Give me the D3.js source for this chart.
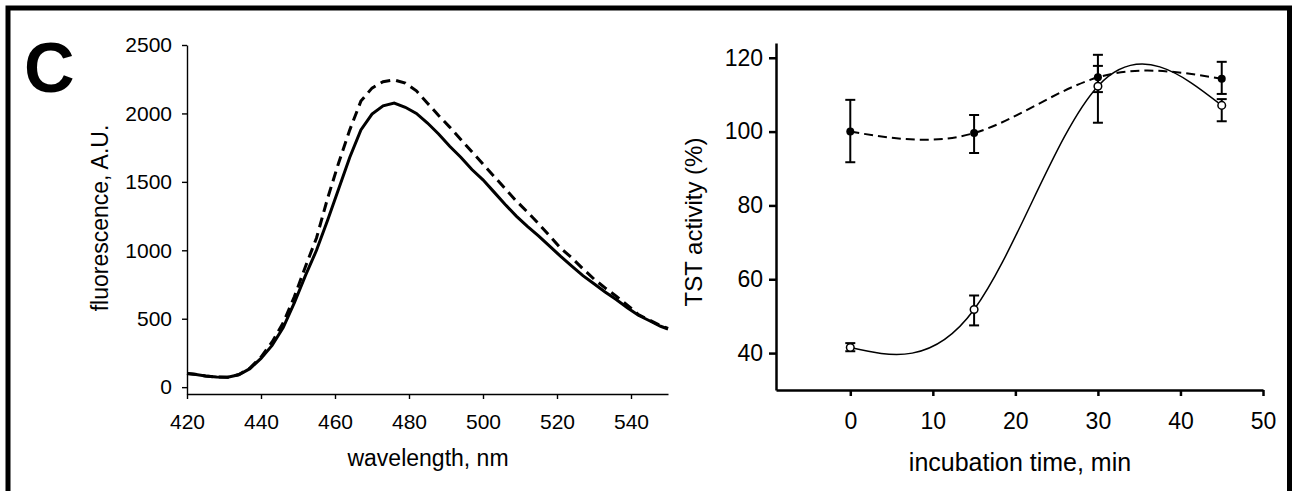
<!DOCTYPE html>
<html>
<head>
<meta charset="utf-8">
<script src="https://cdn.jsdelivr.net/npm/d3@7"></script>
<style>
  body { margin: 0; background: #fff; }
  text { font-family: "Liberation Sans", Arial, sans-serif; fill: #000; }
</style>
</head>
<body>
<svg width="1292" height="491"></svg>
<script>
// left panel: fluorescence spectra
const wavelength = [420,422,425,428,431,434,437,440,443,446,449,452,455,458,461,464,467,470,473,476,479,482,485,488,491,494,497,500,503,506,509,512,515,518,521,524,527,530,533,536,539,542,545,548,550];
const fluorSolid = [100,95,82,74,72,90,135,210,305,435,615,815,1000,1220,1450,1680,1880,1995,2055,2075,2045,2000,1930,1850,1760,1680,1590,1515,1425,1335,1250,1175,1105,1030,955,885,815,755,695,640,580,525,485,445,425];
const fluorDashed = [100,95,82,74,72,92,140,220,330,470,660,880,1090,1380,1640,1880,2090,2185,2232,2245,2222,2165,2075,1985,1900,1810,1720,1630,1540,1450,1360,1280,1195,1105,1015,945,865,790,725,665,600,530,490,450,430];
const wlTicks = [420,440,460,480,500,520,540];
const fluorTicks = [0,500,1000,1500,2000,2500];

// right panel: TST activity
const times = [0,15,30,45];
const ctrlMean = [100,99.6,114.7,114.3];
const ctrlHi = [108.6,104.5,120.8,118.9];
const ctrlLo = [91.7,94.2,110.7,110.2];
const treatMean = [41.5,51.8,112.3,107.1];
const treatHi = [42.7,55.6,117.8,108.8];
const treatLo = [40.5,47.5,102.4,102.8];
const timeTicks = [0,10,20,30,40,50];
const actTicks = [40,60,80,100,120];

const svg = d3.select("svg");

// frame
svg.append("rect")
  .attr("x", 8).attr("y", 8)
  .attr("width", 1281.5).attr("height", 600)
  .attr("fill", "none").attr("stroke", "#000").attr("stroke-width", 5);

svg.append("text")
  .attr("x", 24).attr("y", 92)
  .style("font-size", "70px").style("font-weight", "bold")
  .text("C");

// ---- left chart
const x1 = d3.scaleLinear().domain([420, 550]).range([187, 668]);
const y1 = d3.scaleLinear().domain([-50, 2500]).range([394, 45]);

const gx1 = svg.append("g")
  .attr("transform", "translate(0,394)")
  .call(d3.axisBottom(x1).tickValues(wlTicks).tickFormat(d3.format("d"))
    .tickSize(5).tickSizeOuter(0).tickPadding(15));
const gy1 = svg.append("g")
  .attr("transform", "translate(187,0)")
  .call(d3.axisLeft(y1).tickValues(fluorTicks).tickFormat(d3.format("d"))
    .tickSize(5).tickSizeOuter(0).tickPadding(10));
[gx1, gy1].forEach(g => {
  g.selectAll("path, line").attr("stroke", "#000").attr("stroke-width", 1.4);
  g.selectAll("text").style("font-size", "21px").attr("fill", "#000");
});

const line1 = d3.line()
  .x((d, i) => x1(wavelength[i]))
  .y(d => y1(d));

svg.append("path")
  .attr("d", line1(fluorSolid))
  .attr("fill", "none").attr("stroke", "#000").attr("stroke-width", 3);
svg.append("path")
  .attr("d", line1(fluorDashed))
  .attr("fill", "none").attr("stroke", "#000").attr("stroke-width", 3)
  .attr("stroke-dasharray", "10,6");

svg.append("text")
  .attr("x", 428).attr("y", 466)
  .attr("text-anchor", "middle")
  .style("font-size", "23px")
  .text("wavelength, nm");
svg.append("text")
  .attr("transform", "translate(108,218) rotate(-90)")
  .attr("text-anchor", "middle")
  .style("font-size", "23px")
  .text("fluorescence, A.U.");

// ---- right chart
const x2 = d3.scaleLinear().domain([-9, 50]).range([776, 1263]);
const y2 = d3.scaleLinear().domain([30, 124]).range([390, 43]);

const gx2 = svg.append("g")
  .attr("transform", "translate(0,390)")
  .call(d3.axisBottom(x2).tickValues(timeTicks).tickSize(6).tickSizeOuter(0).tickPadding(17));
const gy2 = svg.append("g")
  .attr("transform", "translate(776,0)")
  .call(d3.axisLeft(y2).tickValues(actTicks).tickSize(7).tickSizeOuter(0).tickPadding(6));
[gx2, gy2].forEach(g => {
  g.selectAll("path, line").attr("stroke", "#000").attr("stroke-width", 2.5);
  g.selectAll("text").style("font-size", "23px").attr("fill", "#000");
});

const line2 = d3.line()
  .x((d, i) => x2(times[i]))
  .y(d => y2(d))
  .curve(d3.curveNatural);

svg.append("path")
  .attr("d", line2(ctrlMean))
  .attr("fill", "none").attr("stroke", "#000").attr("stroke-width", 2)
  .attr("stroke-dasharray", "9,5");
svg.append("path")
  .attr("d", line2(treatMean))
  .attr("fill", "none").attr("stroke", "#000").attr("stroke-width", 1.5);

function errorBars(mean, lo, hi) {
  const g = svg.append("g").attr("stroke", "#000").attr("stroke-width", 2);
  times.forEach((t, i) => {
    const cx = x2(t);
    g.append("line").attr("x1", cx).attr("x2", cx).attr("y1", y2(lo[i])).attr("y2", y2(hi[i]));
    g.append("line").attr("x1", cx - 5).attr("x2", cx + 5).attr("y1", y2(lo[i])).attr("y2", y2(lo[i]));
    g.append("line").attr("x1", cx - 5).attr("x2", cx + 5).attr("y1", y2(hi[i])).attr("y2", y2(hi[i]));
  });
}
errorBars(ctrlMean, ctrlLo, ctrlHi);
errorBars(treatMean, treatLo, treatHi);

svg.append("g").selectAll("circle")
  .data(treatMean)
  .join("circle")
  .attr("cx", (d, i) => x2(times[i]))
  .attr("cy", d => y2(d))
  .attr("r", 3.8)
  .attr("fill", "#fff").attr("stroke", "#000").attr("stroke-width", 1.5);
svg.append("g").selectAll("circle")
  .data(ctrlMean)
  .join("circle")
  .attr("cx", (d, i) => x2(times[i]))
  .attr("cy", d => y2(d))
  .attr("r", 4)
  .attr("fill", "#000");

svg.append("text")
  .attr("x", 1020).attr("y", 471)
  .attr("text-anchor", "middle")
  .style("font-size", "25px")
  .text("incubation time, min");
svg.append("text")
  .attr("transform", "translate(702,222) rotate(-90)")
  .attr("text-anchor", "middle")
  .style("font-size", "24px")
  .text("TST activity (%)");
</script>
</body>
</html>
